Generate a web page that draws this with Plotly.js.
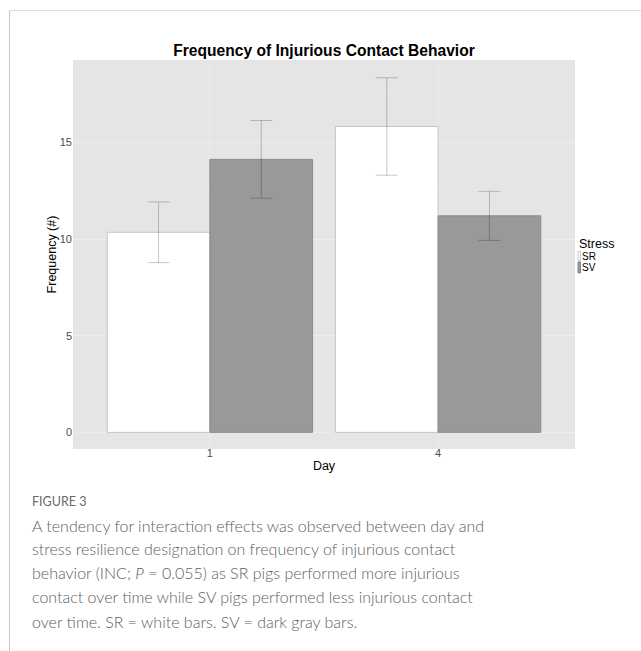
<!DOCTYPE html>
<html>
<head>
<meta charset="utf-8">
<script src="https://cdn.plot.ly/plotly-3.0.1.min.js"></script>
<style>
  html, body { margin: 0; padding: 0; background: #ffffff; }
  #wrap { position: relative; width: 641px; height: 651px; overflow: hidden; }
  #chart { position: absolute; left: 0; top: 0; width: 641px; height: 651px; }
  #frameLeft { position: absolute; left: 9px; top: 10px; width: 1px; height: 641px; background: #c8c8c8; }
  #frameTop { position: absolute; left: 9px; top: 10px; width: 632px; height: 1px; background: #dcdcdc; }
</style>
</head>
<body>
<div id="wrap">
  <div id="chart"></div>
  <div id="frameLeft"></div>
  <div id="frameTop"></div>
</div>
<script>
// ---- data ----
const days = ['1', '4'];
const seriesNames = ['SR', 'SV'];
const srMeans = [10.35, 15.82];
const srErrors = [1.57, 2.52];
const svMeans = [14.12, 11.20];
const svErrors = [2.01, 1.27];
const yTicks = [0, 5, 10, 15];

const chartTitle = 'Frequency of Injurious Contact Behavior';
const xTitle = 'Day';
const yTitle = 'Frequency (#)';
const legendTitle = 'Stress';
const figureLabel = 'FIGURE 3';
const captionLines = [
  'A tendency for interaction effects was observed between day and',
  'stress resilience designation on frequency of injurious contact',
  'behavior (INC; <i>P</i> = 0.055) as SR pigs performed more injurious',
  'contact over time while SV pigs performed less injurious contact',
  'over time. SR = white bars. SV = dark gray bars.'
];

// ---- geometry helpers (pixel -> paper) ----
const W = 641, H = 651;
const L = 73, R = 575, T = 60, B = 449;
const pw = R - L, ph = B - T;
const px = x => (x - L) / pw;
const py = y => (B - y) / ph;

const errColor = 'rgba(0,0,0,0.22)';
const sans = 'Liberation Sans, Arial, sans-serif';
const capFont = 'Lato, Open Sans, sans-serif';

const traces = [
  {
    type: 'bar', name: seriesNames[0], x: days, y: srMeans,
    marker: { color: '#ffffff', line: { color: '#c4c4c4', width: 1 } },
    error_y: { type: 'data', array: srErrors, visible: true, color: errColor, thickness: 1, width: 11 },
    showlegend: false, hoverinfo: 'skip'
  },
  {
    type: 'bar', name: seriesNames[1], x: days, y: svMeans,
    marker: { color: '#999999', line: { color: '#8a8a8a', width: 1 } },
    error_y: { type: 'data', array: svErrors, visible: true, color: errColor, thickness: 1, width: 11 },
    showlegend: false, hoverinfo: 'skip'
  }
];

const annotations = [];
// legend
annotations.push({ xref: 'paper', yref: 'paper', x: px(577), y: py(244), xanchor: 'left', yanchor: 'middle',
  text: legendTitle, showarrow: false, font: { family: sans, size: 12.5, color: '#000000' } });
const legendY = [256, 267.5];
seriesNames.forEach((n, i) => {
  annotations.push({ xref: 'paper', yref: 'paper', x: px(580), y: py(legendY[i]), xanchor: 'left', yanchor: 'middle',
    text: n, showarrow: false, font: { family: sans, size: 10, color: '#000000' } });
});
// caption
annotations.push({ xref: 'paper', yref: 'paper', x: px(30), y: py(501.5), xanchor: 'left', yanchor: 'middle',
  text: figureLabel, showarrow: false, font: { family: capFont, size: 12.5, color: '#6a6a6a' } });
const capY = [525, 548.5, 572, 596.5, 621];
captionLines.forEach((t, i) => {
  annotations.push({ xref: 'paper', yref: 'paper', x: px(30), y: py(capY[i]), xanchor: 'left', yanchor: 'middle',
    text: t, showarrow: false, align: 'left', font: { family: capFont, size: 16, weight: 300, color: '#5e5e5e' } });
});

const shapes = [
  { type: 'rect', xref: 'paper', yref: 'paper', x0: px(578), x1: px(580.5), y0: py(261), y1: py(251.5),
    fillcolor: '#ffffff', line: { color: '#c4c4c4', width: 1 } },
  { type: 'rect', xref: 'paper', yref: 'paper', x0: px(578), x1: px(580.5), y0: py(273), y1: py(262),
    fillcolor: '#999999', line: { color: '#8a8a8a', width: 1 } }
];

const layout = {
  width: W, height: H,
  margin: { l: L, r: W - R, t: T, b: H - B, pad: 0 },
  paper_bgcolor: '#ffffff',
  plot_bgcolor: '#e5e5e5',
  barmode: 'group', bargap: 0.1, bargroupgap: 0,
  showlegend: false,
  title: { text: '<b>' + chartTitle + '</b>', x: 324 / W, xanchor: 'center', y: 1 - 50.5 / H, yanchor: 'middle',
    font: { family: sans, size: 15.6, color: '#000000' } },
  xaxis: {
    type: 'category', categoryorder: 'array', categoryarray: days,
    range: [-0.6, 1.6], showgrid: true, gridcolor: '#ececec', gridwidth: 1,
    zeroline: false, showline: false, ticks: '', ticklabelstandoff: -4,
    tickfont: { family: sans, size: 11, color: '#4d4d4d' },
    title: { text: xTitle, standoff: 3, font: { family: sans, size: 12.5, color: '#000000' } },
    automargin: false
  },
  yaxis: {
    range: [-0.86, 19.26], tickvals: yTicks, ticktext: yTicks.map(String),
    showgrid: true, gridcolor: '#ececec', gridwidth: 1,
    minor: { tick0: 2.5, dtick: 5, showgrid: true, gridcolor: '#e9e9e9', gridwidth: 1 },
    zeroline: false, showline: false, ticks: '',
    tickfont: { family: sans, size: 11, color: '#4d4d4d' },
    title: { text: yTitle, standoff: 0, font: { family: sans, size: 12.5, color: '#000000' } },
    automargin: false
  },
  annotations: annotations,
  shapes: shapes
};

Plotly.newPlot('chart', traces, layout, { staticPlot: true, displayModeBar: false });
</script>
</body>
</html>
